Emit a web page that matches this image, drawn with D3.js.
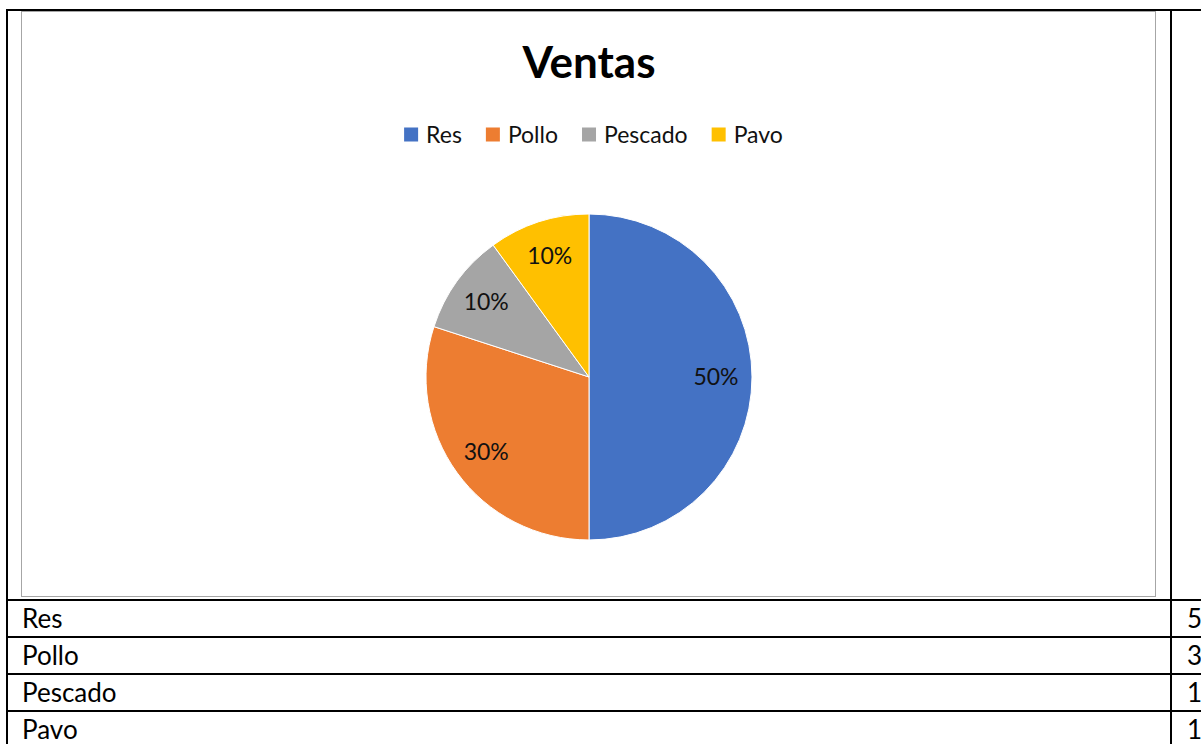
<!DOCTYPE html>
<html>
<head>
<meta charset="utf-8">
<script src="https://cdn.jsdelivr.net/npm/d3@7"></script>
<style>
  body { margin: 0; background: #fff; }
  svg { display: block; font-family: Lato, "Open Sans", sans-serif; }
</style>
</head>
<body>
<svg id="chart" width="1201" height="744"></svg>
<script>
// data
var categories = ["Res", "Pollo", "Pescado", "Pavo"];
var values = [5, 3, 1, 1];
var colors = ["#4472C4", "#ED7D31", "#A5A5A5", "#FFC000"];
var title = "Ventas";

var svg = d3.select("#chart");
var W = 1201, H = 744;

svg.append("rect").attr("width", W).attr("height", H).attr("fill", "#fff");

// chart frame (gray)
svg.append("rect")
  .attr("x", 21.5).attr("y", 11.5)
  .attr("width", 1134).attr("height", 585)
  .attr("fill", "none")
  .attr("stroke", "#a6a6a6")
  .attr("stroke-width", 1);

// table grid
var rowY = [600, 637, 674, 711];
var grid = svg.append("g").attr("stroke", "#000").attr("stroke-width", 2);
grid.append("line").attr("x1", 6).attr("x2", W).attr("y1", 10).attr("y2", 10);
grid.append("line").attr("x1", 7).attr("x2", 7).attr("y1", 9).attr("y2", H);
grid.append("line").attr("x1", 1171).attr("x2", 1171).attr("y1", 9).attr("y2", H);
rowY.forEach(function (y) {
  grid.append("line").attr("x1", 6).attr("x2", W).attr("y1", y).attr("y2", y);
});

// table text
categories.forEach(function (c, i) {
  svg.append("text")
    .attr("x", 22)
    .attr("y", rowY[i] + 28)
    .attr("font-size", "26px")
    .attr("fill", "#000")
    .text(c);
  svg.append("text")
    .attr("x", 1187)
    .attr("y", rowY[i] + 28)
    .attr("font-size", "26px")
    .attr("fill", "#000")
    .text(values[i]);
});

// title
svg.append("text")
  .attr("x", 589)
  .attr("y", 78)
  .attr("text-anchor", "middle")
  .attr("font-size", "44px")
  .attr("font-weight", "bold")
  .attr("fill", "#000")
  .text(title);

// legend
var legend = svg.append("g");
var lx = 0;
categories.forEach(function (c, i) {
  var item = legend.append("g").attr("transform", "translate(" + lx + ",0)");
  item.append("rect")
    .attr("x", 0).attr("y", -7)
    .attr("width", 14).attr("height", 14)
    .attr("fill", colors[i]);
  var t = item.append("text")
    .attr("x", 22)
    .attr("y", 8)
    .attr("font-size", "23px")
    .attr("fill", "#111")
    .text(c);
  lx += 22 + t.node().getComputedTextLength() + 24;
});
var legendW = lx - 24;
legend.attr("transform", "translate(" + (593.5 - legendW / 2) + ",134.5)");

// pie
var cx = 589, cy = 377, r = 163;
var pie = d3.pie().sort(null).value(function (d) { return d; });
var arc = d3.arc().innerRadius(0).outerRadius(r);
var labelArc = d3.arc().innerRadius(127).outerRadius(127);
var total = d3.sum(values);
var arcs = pie(values);

var g = svg.append("g").attr("transform", "translate(" + cx + "," + cy + ")");
g.selectAll("path")
  .data(arcs)
  .enter()
  .append("path")
  .attr("d", arc)
  .attr("fill", function (d, i) { return colors[i]; })
  .attr("stroke", "#fff")
  .attr("stroke-width", 1);

g.selectAll(".lbl")
  .data(arcs)
  .enter()
  .append("text")
  .attr("class", "lbl")
  .attr("transform", function (d) { return "translate(" + labelArc.centroid(d) + ")"; })
  .attr("text-anchor", "middle")
  .attr("dy", "0.35em")
  .attr("font-size", "23px")
  .attr("fill", "#111")
  .text(function (d) { return Math.round(d.value / total * 100) + "%"; });
</script>
</body>
</html>
